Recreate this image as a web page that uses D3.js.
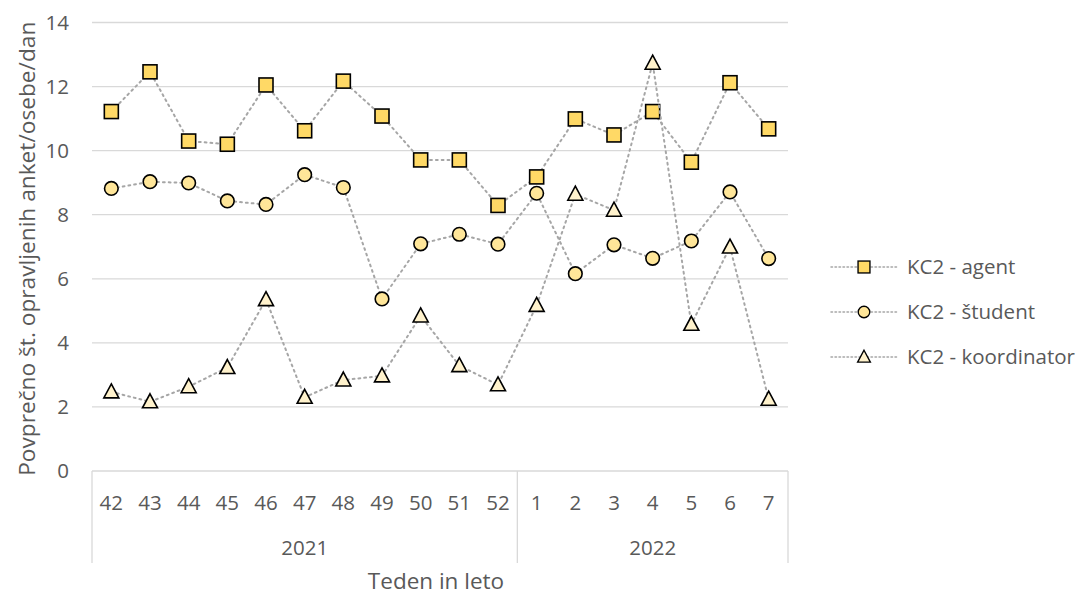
<!DOCTYPE html>
<html>
<head>
<meta charset="utf-8">
<script src="https://cdnjs.cloudflare.com/ajax/libs/d3/7.8.5/d3.min.js"></script>
<style>
body { margin: 0; background: #fff; }
text { font-family: "Open Sans", "Noto Sans", sans-serif; fill: #595959; }
.grid line { stroke: #D9D9D9; stroke-width: 1.3; }
.link { fill: none; stroke: #A6A6A6; stroke-width: 2; stroke-dasharray: 1.8 4; stroke-linecap: round; }
</style>
</head>
<body>
<div id="chart"></div>
<script>
var weeks = ['42','43','44','45','46','47','48','49','50','51','52','1','2','3','4','5','6','7'];
var years = [{label: '2021', count: 11}, {label: '2022', count: 7}];
var agent = [11.22,12.46,10.30,10.20,12.05,10.62,12.17,11.08,9.71,9.71,8.29,9.18,10.99,10.49,11.22,9.64,12.12,10.68];
var student = [8.82,9.03,8.99,8.43,8.32,9.25,8.85,5.37,7.09,7.39,7.08,8.67,6.16,7.06,6.64,7.18,8.71,6.63];
var koordinator = [2.47,2.16,2.63,3.23,5.35,2.30,2.84,2.97,4.84,3.29,2.69,5.17,8.64,8.14,12.73,4.58,6.99,2.24];
var yTicks = [0,2,4,6,8,10,12,14];

var series = [
  {name: 'KC2 - agent', values: agent, shape: 'square', fill: '#FFD966'},
  {name: 'KC2 - študent', values: student, shape: 'circle', fill: '#FFE699'},
  {name: 'KC2 - koordinator', values: koordinator, shape: 'triangle', fill: '#FFF2CC'}
];

var W = 1081, H = 597;
var margin = {left: 92, top: 22.5, right: 293, bottom: 126};
var pw = W - margin.left - margin.right, ph = H - margin.top - margin.bottom;

var svg = d3.select('#chart').append('svg').attr('width', W).attr('height', H);
var g = svg.append('g').attr('transform', 'translate(' + margin.left + ',' + margin.top + ')');

var x = d3.scaleBand().domain(d3.range(weeks.length)).range([0, pw]);
var y = d3.scaleLinear().domain([0, 14]).range([ph, 0]);

// gridlines
g.append('g').attr('class', 'grid').selectAll('line')
  .data(yTicks.filter(function(d) { return d > 0; })).enter().append('line')
  .attr('x1', 0).attr('x2', pw)
  .attr('y1', function(d) { return y(d); }).attr('y2', function(d) { return y(d); });

// y tick labels
g.selectAll('.ytick').data(yTicks).enter().append('text')
  .attr('x', -23).attr('y', function(d) { return y(d); })
  .attr('dy', '0.35em').attr('text-anchor', 'end')
  .style('font-size', '20.5px').text(function(d) { return d; });

// category axis box
var ax = g.append('g').attr('class', 'grid');
ax.append('line').attr('x1', 0).attr('x2', pw).attr('y1', ph).attr('y2', ph);
var bounds = [0], acc = 0;
years.forEach(function(yr) { acc += yr.count; bounds.push(acc); });
ax.selectAll('.sep').data(bounds).enter().append('line')
  .attr('x1', function(d) { return d === weeks.length ? pw : x(d); })
  .attr('x2', function(d) { return d === weeks.length ? pw : x(d); })
  .attr('y1', ph).attr('y2', ph + 92);

g.selectAll('.wk').data(weeks).enter().append('text')
  .attr('x', function(d, i) { return x(i) + x.bandwidth() / 2; })
  .attr('y', ph + 32).attr('dy', '0.35em').attr('text-anchor', 'middle')
  .style('font-size', '20.5px').text(function(d) { return d; });

g.selectAll('.yr').data(years).enter().append('text')
  .attr('x', function(d, i) {
    var a = x(bounds[i]), b = bounds[i + 1] === weeks.length ? pw : x(bounds[i + 1]);
    return (a + b) / 2;
  })
  .attr('y', ph + 77).attr('dy', '0.35em').attr('text-anchor', 'middle')
  .style('font-size', '20.5px').text(function(d) { return d.label; });

// axis titles
g.append('text').attr('x', pw / 2 - 4).attr('y', ph + 110).attr('dy', '0.35em')
  .attr('text-anchor', 'middle').style('font-size', '22.5px').text('Teden in leto');
g.append('text').attr('transform', 'translate(' + (-65) + ',' + (ph / 2 + 2) + ') rotate(-90)')
  .attr('dy', '0.35em').attr('text-anchor', 'middle').style('font-size', '22.7px')
  .text('Povprečno št. opravljenih anket/osebe/dan');

function drawMarker(sel, shape, fill) {
  if (shape === 'square') {
    sel.append('rect').attr('x', -7).attr('y', -7).attr('width', 14).attr('height', 14);
  } else if (shape === 'circle') {
    sel.append('circle').attr('r', 6.8);
  } else {
    sel.append('path').attr('d', 'M0,-8L7.5,6L-7.5,6Z');
  }
  sel.selectAll('rect,circle,path').attr('fill', fill).attr('stroke', '#000').attr('stroke-width', 1.6);
}

var line = d3.line()
  .x(function(d, i) { return x(i) + x.bandwidth() / 2; })
  .y(function(d) { return y(d); });

series.forEach(function(s) {
  var sg = g.append('g');
  sg.append('path').attr('class', 'link').attr('d', line(s.values));
  s.values.forEach(function(v, i) {
    var m = sg.append('g').attr('transform', 'translate(' + (x(i) + x.bandwidth() / 2) + ',' + y(v) + ')');
    drawMarker(m, s.shape, s.fill);
  });
});

// legend
var lg = svg.append('g').attr('transform', 'translate(831,267)');
series.forEach(function(s, i) {
  var row = lg.append('g').attr('transform', 'translate(0,' + (i * 45) + ')');
  row.append('line').attr('class', 'link').attr('x1', 0).attr('x2', 66).attr('y1', 0).attr('y2', 0)
    .style('stroke-width', 1.5).style('stroke-dasharray', '1.5 2.5');
  var m = row.append('g').attr('transform', 'translate(33,0)');
  drawMarker(m, s.shape, s.fill);
  m.selectAll('rect,circle,path').attr('transform', 'scale(0.85)');
  row.append('text').attr('x', 76).attr('y', 0).attr('dy', '0.35em')
    .style('font-size', '20.5px').text(s.name);
});
</script>
</body>
</html>
